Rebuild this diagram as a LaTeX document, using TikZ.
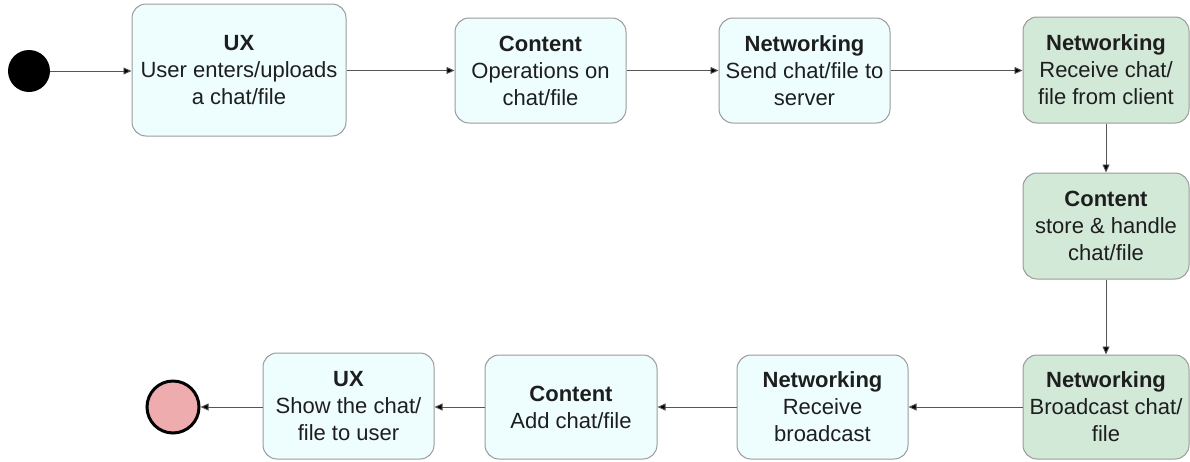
\documentclass[tikz,border=0pt]{standalone}
\usepackage{fontspec}
\setmainfont{Liberation Sans}
\usetikzlibrary{arrows.meta}
\definecolor{cyanfill}{HTML}{EEFEFF}
\definecolor{greenfill}{HTML}{D2E9D8}
\definecolor{boxborder}{HTML}{9A9A9A}
\definecolor{linegray}{HTML}{555555}
\definecolor{txt}{HTML}{1E1E1E}
\definecolor{pinkfill}{HTML}{EEACAE}
\tikzset{
  stbox/.style={draw=boxborder, line width=1pt, rounded corners=14pt, inner sep=0pt,
    align=center, text=txt, font=\fontsize{22}{27}\selectfont},
  cbox/.style={stbox, fill=cyanfill},
  gbox/.style={stbox, fill=greenfill},
  conn/.style={draw=linegray, line width=0.9pt, -{Triangle[length=8pt,width=7pt,fill=black]}},
}
\newcommand{\ttl}[1]{\textbf{#1}}
\begin{document}
\begin{tikzpicture}[x=1pt,y=-1pt]
\useasboundingbox (0,0) rectangle (1190,461);
\node[circle, fill=black, minimum size=42pt, inner sep=0pt] (start) at (29,71) {};
\node[cbox, minimum width=214pt, minimum height=132pt] (ux1) at (239,70) {\ttl{UX}\\User enters/uploads\\a chat/file};
\node[cbox, minimum width=171pt, minimum height=105pt] (c1) at (540.5,70.5) {\ttl{Content}\\Operations on\\chat/file};
\node[cbox, minimum width=171pt, minimum height=105pt] (n1) at (804.5,70.5) {\ttl{Networking}\\Send chat/file to\\server};
\node[gbox, minimum width=166pt, minimum height=106pt] (n2) at (1106,70) {\ttl{Networking}\\Receive chat/\\file from client};
\node[gbox, minimum width=166pt, minimum height=106pt] (c2) at (1106,226) {\ttl{Content}\\store \& handle\\chat/file};
\node[gbox, minimum width=166pt, minimum height=104pt] (n3) at (1106,407) {\ttl{Networking}\\Broadcast chat/\\file};
\node[cbox, minimum width=171pt, minimum height=104pt] (n4) at (822.5,407) {\ttl{Networking}\\Receive\\broadcast};
\node[cbox, minimum width=172pt, minimum height=104pt] (c3) at (571,407) {\ttl{Content}\\Add chat/file};
\node[cbox, minimum width=171pt, minimum height=106pt] (ux2) at (348.5,406) {\ttl{UX}\\Show the chat/\\file to user};
\node[circle, draw=black, line width=3pt, fill=pinkfill, minimum size=52pt, inner sep=0pt] (end) at (173,407) {};
\draw[conn] (start.east) -- (ux1.west |- start.east);
\draw[conn] (ux1.east |- c1.west) -- (c1.west);
\draw[conn] (c1.east) -- (n1.west);
\draw[conn] (n1.east) -- (n2.west |- n1.east);
\draw[conn] (n2.south) -- (c2.north);
\draw[conn] (c2.south) -- (n3.north);
\draw[conn] (n3.west) -- (n4.east);
\draw[conn] (n4.west) -- (c3.east);
\draw[conn] (c3.west) -- (ux2.east |- c3.west);
\draw[conn] (ux2.west |- end.east) -- (end.east);
\end{tikzpicture}
\end{document}
